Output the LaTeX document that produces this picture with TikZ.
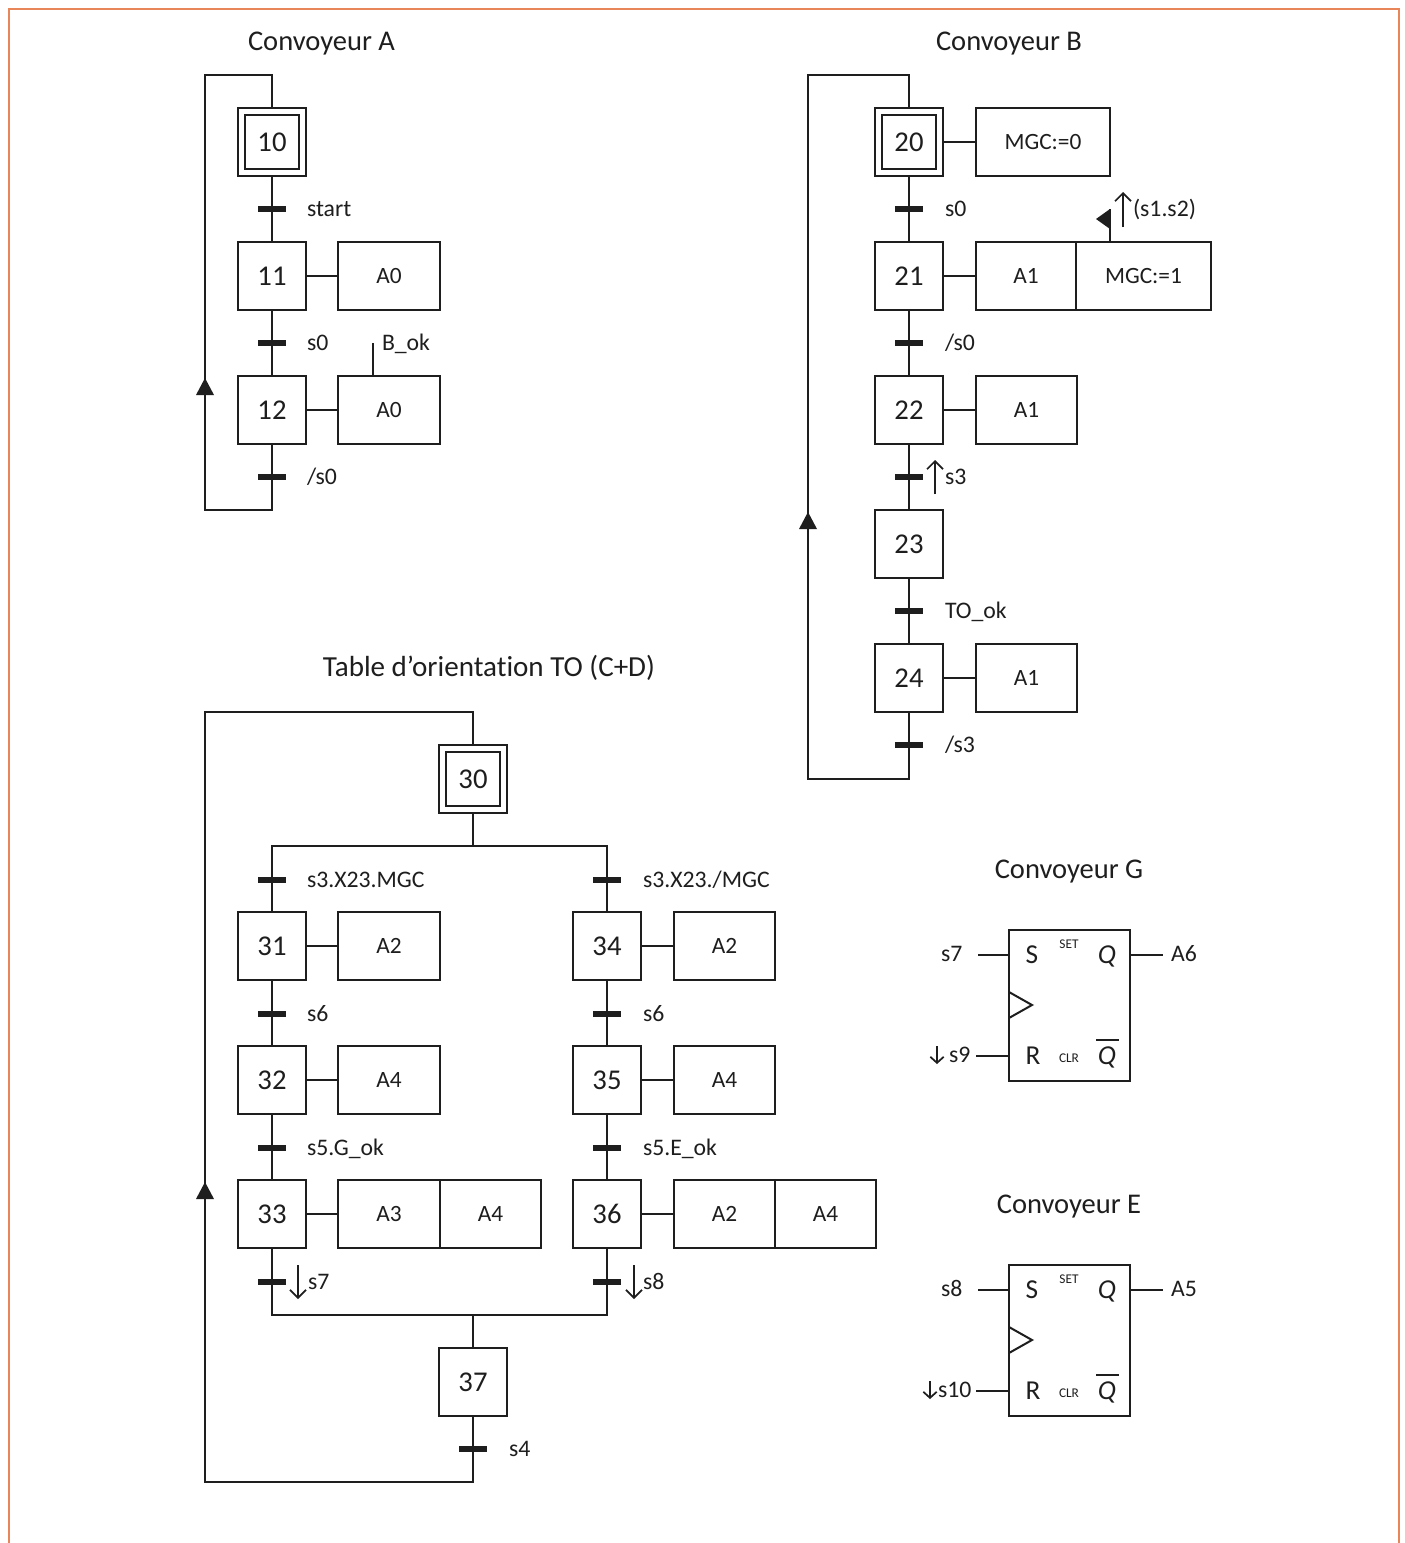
\documentclass[tikz,border=0pt]{standalone}
\usepackage{fontspec}
\setmainfont{Carlito}[Ligatures=CommonOff]
\usetikzlibrary{arrows.meta}
\definecolor{frameorange}{HTML}{E8865A}
\definecolor{ink}{HTML}{1E1E1E}
\newcommand{\fsz}[1]{\fontsize{#1}{#1}\selectfont}
\tikzset{
  every node/.style={text=ink},
  conn/.style={draw=ink,line width=1.5pt},
  thin conn/.style={draw=ink,line width=1.5pt},
  stepbox/.style={draw=ink,line width=1.5pt,fill=white,minimum size=51pt,inner sep=0pt,outer sep=0pt,font=\fsz{21.5}},
  innerbox/.style={stepbox,minimum size=40.5pt},
  actbox/.style={draw=ink,line width=1.5pt,fill=white,minimum height=51pt,inner sep=0pt,outer sep=0pt,anchor=west,font=\fsz{17.5}},
  barnode/.style={fill=ink,minimum width=21pt,minimum height=3.8pt,inner sep=0pt,outer sep=0pt},
  lab/.style={anchor=west,inner sep=0pt,outer sep=0pt,text height=11.4pt,text depth=0pt,font=\fsz{17.8}},
  title/.style={inner sep=0pt,text height=13.3pt,text depth=0pt,font=\fsz{21.4}},
  signal/.style={draw=ink,line width=1.3pt,-{Straight Barb[length=6pt,width=12pt,line width=1.3pt]}},
  flopbox/.style={draw=ink,line width=1.5pt,minimum width=90.75pt,minimum height=113.25pt,inner sep=0pt,outer sep=0pt},
  floptxt/.style={inner sep=0pt,outer sep=0pt,font=\fsz{20.5},text height=13pt,text depth=0pt},
  tiny txt/.style={inner sep=0pt,outer sep=0pt,font=\fsz{10}},
}
\newcommand{\stp}[4]{\node[stepbox] (#1) at (#2,#3) {#4};}
\newcommand{\inistp}[4]{\node[stepbox] (#1) at (#2,#3) {}; \node[innerbox] (#1i) at (#2,#3) {#4};}
\newcommand{\trbar}[3]{\node[barnode] (#1) at (#2,#3) {};}
\newcommand{\upmark}[2]{\fill[ink] (#1,#2) ++(0,-9) -- ++(-9,17) -- ++(18,0) -- cycle;}
\begin{document}
\begin{tikzpicture}[x=0.75pt,y=-0.75pt]
\useasboundingbox (0,0) rectangle (1404,1543);
\fill[white] (0,0) rectangle (1404,1543);
\draw[frameorange,line width=1.5pt] (9,1543) -- (9,9) -- (1399,9) -- (1399,1543);

% ---------- Convoyeur A
\node[title] (ta) at (321.5,42) {Convoyeur A};
\inistp{s10}{272}{142}{10}
\stp{s11}{272}{276}{11}
\stp{s12}{272}{410}{12}
\trbar{t10}{272}{209} \trbar{t11}{272}{343} \trbar{t12}{272}{477}
\coordinate (a1) at (272,510); \coordinate (a2) at (205,510);
\coordinate (a3) at (205,75); \coordinate (a4) at (272,75);
\draw[conn] (s10) -- (t10) -- (s11);
\draw[conn] (s11) -- (t11) -- (s12);
\draw[conn] (s12) -- (t12) -- (a1) -- (a2) -- (a3) -- (a4) -- (s10);
\upmark{205}{387}
\node[lab] (l10) at (307,209) {start};
\node[lab] (l11) at (307,343) {s0};
\node[lab] (l12) at (307,477) {/s0};
\node[actbox,minimum width=76.5pt] (a11) at (338,276) {A0};
\node[actbox,minimum width=76.5pt] (a12) at (338,410) {A0};
\draw[thin conn] (s11) -- (a11);
\draw[thin conn] (s12) -- (a12);
\coordinate (bok) at (373,343);
\draw[thin conn] (a12.north -| bok) -- (bok);
\node[lab] (lbok) at (382,343) {B\_ok};

% ---------- Convoyeur B
\node[title] (tb) at (1009,42) {Convoyeur B};
\inistp{s20}{909}{142}{20}
\stp{s21}{909}{276}{21}
\stp{s22}{909}{410}{22}
\stp{s23}{909}{544}{23}
\stp{s24}{909}{678}{24}
\trbar{t20}{909}{209} \trbar{t21}{909}{343} \trbar{t22}{909}{477} \trbar{t23}{909}{611} \trbar{t24}{909}{745}
\coordinate (b1) at (909,779); \coordinate (b2) at (808,779);
\coordinate (b3) at (808,75); \coordinate (b4) at (909,75);
\draw[conn] (s20) -- (t20) -- (s21);
\draw[conn] (s21) -- (t21) -- (s22);
\draw[conn] (s22) -- (t22) -- (s23);
\draw[conn] (s23) -- (t23) -- (s24);
\draw[conn] (s24) -- (t24) -- (b1) -- (b2) -- (b3) -- (b4) -- (s20);
\upmark{808}{521}
\node[lab] (l20) at (945,209) {s0};
\node[lab] (l21) at (945,343) {/s0};
\node[lab] (l22) at (945,477) {s3};
\node[lab] (l23) at (945,611) {TO\_ok};
\node[lab] (l24) at (945,745) {/s3};
\coordinate (u1a) at (935,494); \coordinate (u1b) at (935,460);
\draw[signal] (u1a) -- (u1b);
\node[actbox,minimum width=100.5pt] (a20) at (976,142) {MGC:=0};
\node[actbox,minimum width=75pt] (a21) at (976,276) {A1};
\node[actbox,minimum width=101.25pt] (a21b) at (a21.east) {MGC:=1};
\node[actbox,minimum width=75.75pt] (a22) at (976,410) {A1};
\node[actbox,minimum width=75.75pt] (a24) at (976,678) {A1};
\draw[thin conn] (s20) -- (a20);
\draw[thin conn] (s21) -- (a21);
\draw[thin conn] (s22) -- (a22);
\draw[thin conn] (s24) -- (a24);
\coordinate (f1) at (1110,209);
\draw[thin conn] (a21b.north -| f1) -- (f1);
\fill[ink] (f1) -- (1096,219) -- (1110,229) -- cycle;
\coordinate (u2a) at (1123,227); \coordinate (u2b) at (1123,192);
\draw[signal] (u2a) -- (u2b);
\node[lab] (lsig) at (1133,209) {(s1.s2)};

% ---------- Table d'orientation
\node[title,font=\fsz{21.8}] (tt) at (489,668) {Table d’orientation TO (C+D)};
\inistp{s30}{473}{779}{30}
\stp{s31}{272}{946}{31}
\stp{s32}{272}{1080}{32}
\stp{s33}{272}{1214}{33}
\stp{s34}{607}{946}{34}
\stp{s35}{607}{1080}{35}
\stp{s36}{607}{1214}{36}
\stp{s37}{473}{1382}{37}
\trbar{t30}{272}{880} \trbar{t31}{272}{1014} \trbar{t32}{272}{1148} \trbar{t33}{272}{1282}
\trbar{t34}{607}{880} \trbar{t35}{607}{1014} \trbar{t36}{607}{1148} \trbar{t37}{607}{1282}
\trbar{t38}{473}{1449}
\coordinate (d0) at (473,846); \coordinate (dl) at (272,846); \coordinate (dr) at (607,846);
\coordinate (j0) at (473,1315); \coordinate (jl) at (272,1315); \coordinate (jr) at (607,1315);
\draw[conn] (s30) -- (d0);
\draw[conn] (s31) -- (t30) -- (dl) -- (dr) -- (t34) -- (s34);
\draw[conn] (s31) -- (t31) -- (s32);
\draw[conn] (s32) -- (t32) -- (s33);
\draw[conn] (s33) -- (t33) -- (jl) -- (jr) -- (t37) -- (s36);
\draw[conn] (s34) -- (t35) -- (s35);
\draw[conn] (s35) -- (t36) -- (s36);
\draw[conn] (j0) -- (s37);
\coordinate (c1) at (473,1482); \coordinate (c2) at (205,1482);
\coordinate (c3) at (205,712); \coordinate (c4) at (473,712);
\draw[conn] (s37) -- (t38) -- (c1) -- (c2) -- (c3) -- (c4) -- (s30);
\upmark{205}{1191}
\node[lab] (l30) at (307,880) {s3.X23.MGC};
\node[lab] (l31) at (307,1014) {s6};
\node[lab] (l32) at (307,1148) {s5.G\_ok};
\node[lab] (l33) at (308,1282) {s7};
\node[lab] (l34) at (643,880) {s3.X23./MGC};
\node[lab] (l35) at (643,1014) {s6};
\node[lab] (l36) at (643,1148) {s5.E\_ok};
\node[lab] (l37) at (643,1282) {s8};
\node[lab] (l38) at (509,1449) {s4};
\coordinate (d1a) at (298,1265); \coordinate (d1b) at (298,1299);
\draw[signal] (d1a) -- (d1b);
\coordinate (d2a) at (634,1265); \coordinate (d2b) at (634,1299);
\draw[signal] (d2a) -- (d2b);
\node[actbox,minimum width=76.5pt] (a31) at (338,946) {A2};
\node[actbox,minimum width=76.5pt] (a32) at (338,1080) {A4};
\node[actbox,minimum width=76.5pt] (a33) at (338,1214) {A3};
\node[actbox,minimum width=75.75pt] (a33b) at (a33.east) {A4};
\node[actbox,minimum width=75.75pt] (a34) at (674,946) {A2};
\node[actbox,minimum width=75.75pt] (a35) at (674,1080) {A4};
\node[actbox,minimum width=75.75pt] (a36) at (674,1214) {A2};
\node[actbox,minimum width=75.75pt] (a36b) at (a36.east) {A4};
\foreach \n in {31,32,33,34,35,36} {\draw[thin conn] (s\n) -- (a\n);}

% ---------- Convoyeur G
\node[title] (tg) at (1069,870) {Convoyeur G};
\node[flopbox] (fg) at (1069.5,1005.5) {};
\node[floptxt] (gs) at (1032,955) {S};
\node[floptxt] (gr) at (1033,1056) {R};
\node[floptxt] (gq) at (1107,955) {\itshape Q};
\node[floptxt] (gn) at (1107,1056) {\itshape Q};
\node[tiny txt] (gset) at (1069,944) {SET};
\node[tiny txt] (gclr) at (1069,1058) {CLR};
\draw[thin conn] (1096,1040) coordinate (gn1) -- (1119,1040) coordinate (gn2);
\draw[thin conn] (1009,992) coordinate (gk1) -- (1032,1005) coordinate (gk2) -- (1009,1018) coordinate (gk3);
\node[lab] (gs7) at (941,954) {s7};
\node[lab] (gs9) at (949,1055) {s9};
\node[lab] (ga6) at (1171,954) {A6};
\coordinate (g1) at (978,955); \coordinate (g2) at (976,1056); \coordinate (g3) at (1163,955);
\draw[thin conn] (g1) -- (g1 -| fg.west);
\draw[thin conn] (g2) -- (g2 -| fg.west);
\draw[thin conn] (g3 -| fg.east) -- (g3);
\coordinate (g4a) at (937,1046); \coordinate (g4b) at (937,1064);
\draw[signal,-{Straight Barb[length=4.5pt,width=10pt,line width=1.3pt]}] (g4a) -- (g4b);

% ---------- Convoyeur E
\node[title] (te) at (1069,1205) {Convoyeur E};
\node[flopbox] (fe) at (1069.5,1340.5) {};
\node[floptxt] (es) at (1032,1290) {S};
\node[floptxt] (er) at (1033,1391) {R};
\node[floptxt] (eq) at (1107,1290) {\itshape Q};
\node[floptxt] (en) at (1107,1391) {\itshape Q};
\node[tiny txt] (eset) at (1069,1279) {SET};
\node[tiny txt] (eclr) at (1069,1393) {CLR};
\draw[thin conn] (1096,1375) coordinate (en1) -- (1119,1375) coordinate (en2);
\draw[thin conn] (1009,1327) coordinate (ek1) -- (1032,1340) coordinate (ek2) -- (1009,1353) coordinate (ek3);
\node[lab] (es8) at (941,1289) {s8};
\node[lab] (es10) at (938,1390) {s10};
\node[lab] (ea5) at (1171,1289) {A5};
\coordinate (e1) at (978,1290); \coordinate (e2) at (976,1391); \coordinate (e3) at (1163,1290);
\draw[thin conn] (e1) -- (e1 -| fe.west);
\draw[thin conn] (e2) -- (e2 -| fe.west);
\draw[thin conn] (e3 -| fe.east) -- (e3);
\coordinate (e4a) at (930,1381); \coordinate (e4b) at (930,1399);
\draw[signal,-{Straight Barb[length=4.5pt,width=10pt,line width=1.3pt]}] (e4a) -- (e4b);
\end{tikzpicture}
\end{document}
